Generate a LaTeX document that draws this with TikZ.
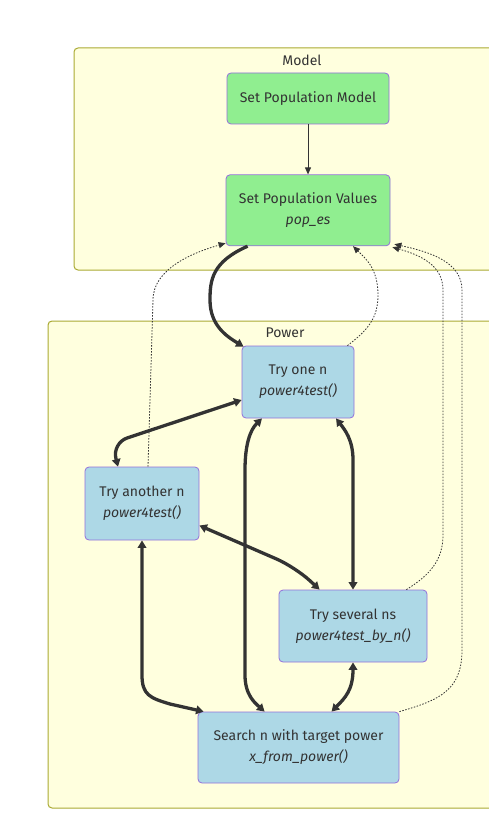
\documentclass[tikz,border=0pt]{standalone}
\usepackage{fontspec}
\setmainfont{Fira Sans}
\usepackage{tikz}
\usetikzlibrary{arrows.meta,positioning}
\definecolor{clfill}{HTML}{FFFFDE}
\definecolor{clline}{HTML}{AAAA33}
\definecolor{nline}{HTML}{9370DB}
\definecolor{ngreen}{HTML}{90EE90}
\definecolor{nblue}{HTML}{ADD8E6}
\definecolor{ink}{HTML}{333333}

\begin{document}
\begin{tikzpicture}[x=1pt, y=1pt, >={Triangle[length=7pt,width=6pt]},
  font=\fontsize{14}{21}\selectfont, text=ink,
  cluster/.style={draw=clline, fill=clfill, rounded corners=4pt, line width=1pt},
  box/.style={draw=nline, rounded corners=4pt, align=center, inner sep=0pt, line width=0.8pt},
  mbox/.style={box, fill=ngreen},
  pbox/.style={box, fill=nblue},
  link/.style={draw=ink, line width=0.9pt},
  thicklink/.style={draw=ink, line width=3.3pt, >={Triangle[length=7.5pt,width=8.5pt]}},
  dotlink/.style={draw=ink, line width=0.8pt, dash pattern=on 1.5pt off 1.5pt}]
\useasboundingbox (0,0) rectangle (489,-840);
\clip (0,0) rectangle (489,-840);
% subgraphs
\draw[cluster] (74,-48) rectangle (520,-270);
\node (modeltitle) at (302,-60) {Model};
\draw[cluster] (48,-321) rectangle (520,-808);
\node (powertitle) at (285,-333) {Power};
% nodes
\node[mbox, minimum width=162pt, minimum height=51pt] (m) at (308,-98.5) {Set Population Model};
\node[mbox, minimum width=164pt, minimum height=71pt, below=50pt of m] (v) {Set Population Values\\\textit{pop\_es}};
\node[pbox, minimum width=112pt, minimum height=72pt] (one) at (298,-382) {Try one n\\\textit{power4test()}};
\node[pbox, minimum width=114pt, minimum height=73pt] (another) at (142,-503.5) {Try another n\\\textit{power4test()}};
\node[pbox, minimum width=148pt, minimum height=72pt] (several) at (353,-626) {Try several ns\\\textit{power4test\_by\_n()}};
\node[pbox, minimum width=201pt, minimum height=71pt] (search) at (298.5,-747.5) {Search n with target power\\\textit{x\_from\_power()}};
% edges
\draw[link,->] (m) -- (v);
\draw[thicklink,->] ([xshift=22pt]v.south west) .. controls (212,-262) and (210,-280) .. (210,-300)
  .. controls (210,-325) and (226,-336) .. ([xshift=2pt,yshift=-1pt]one.north west);
\draw[thicklink,<->,rounded corners=16pt] ([yshift=-18pt]one.west) -- (112,-443) -- ([xshift=-24pt]another.north);
\draw[thicklink,<->,rounded corners=20pt] ([yshift=-22pt]another.east) -- (295,-567) -- ([xshift=41pt]several.north west);
\draw[thicklink,<->] ([xshift=38pt]one.south) .. controls (345,-430) and (353,-440) .. (353,-460) -- (several.north);
\draw[thicklink,<->] ([xshift=-36pt]one.south) .. controls (250,-430) and (245,-445) .. (245,-470) -- (245,-675)
  .. controls (245,-695) and (255,-703) .. ([xshift=67pt]search.north west);
\draw[thicklink,<->] (another.south) -- (142,-675) .. controls (142,-695) and (150,-698) .. (170,-704)
  -- ([xshift=6pt]search.north west);
\draw[thicklink,<->] (several.south) .. controls (353,-690) and (345,-698) .. ([xshift=33pt]search.north);
% dotted returns
\draw[dotlink,->] ([xshift=6pt]another.north) -- (153,-300) .. controls (153,-268) and (195,-252) .. ([yshift=3pt]v.south west);
\draw[dotlink,->] ([xshift=-7pt]one.north east) .. controls (368,-330) and (378,-318) .. (378,-295)
  .. controls (378,-268) and (365,-258) .. ([xshift=45pt]v.south);
\draw[dotlink,->] ([xshift=-21pt]several.north east) .. controls (430,-575) and (443,-560) .. (443,-535) -- (443,-290)
  .. controls (443,-265) and (420,-255) .. ([xshift=2pt,yshift=-1pt]v.south east);
\draw[dotlink,->] (search.north east) .. controls (440,-700) and (462,-690) .. (462,-650) -- (462,-290)
  .. controls (462,-262) and (430,-252) .. ([xshift=4pt,yshift=2pt]v.south east);
\end{tikzpicture}
\end{document}
